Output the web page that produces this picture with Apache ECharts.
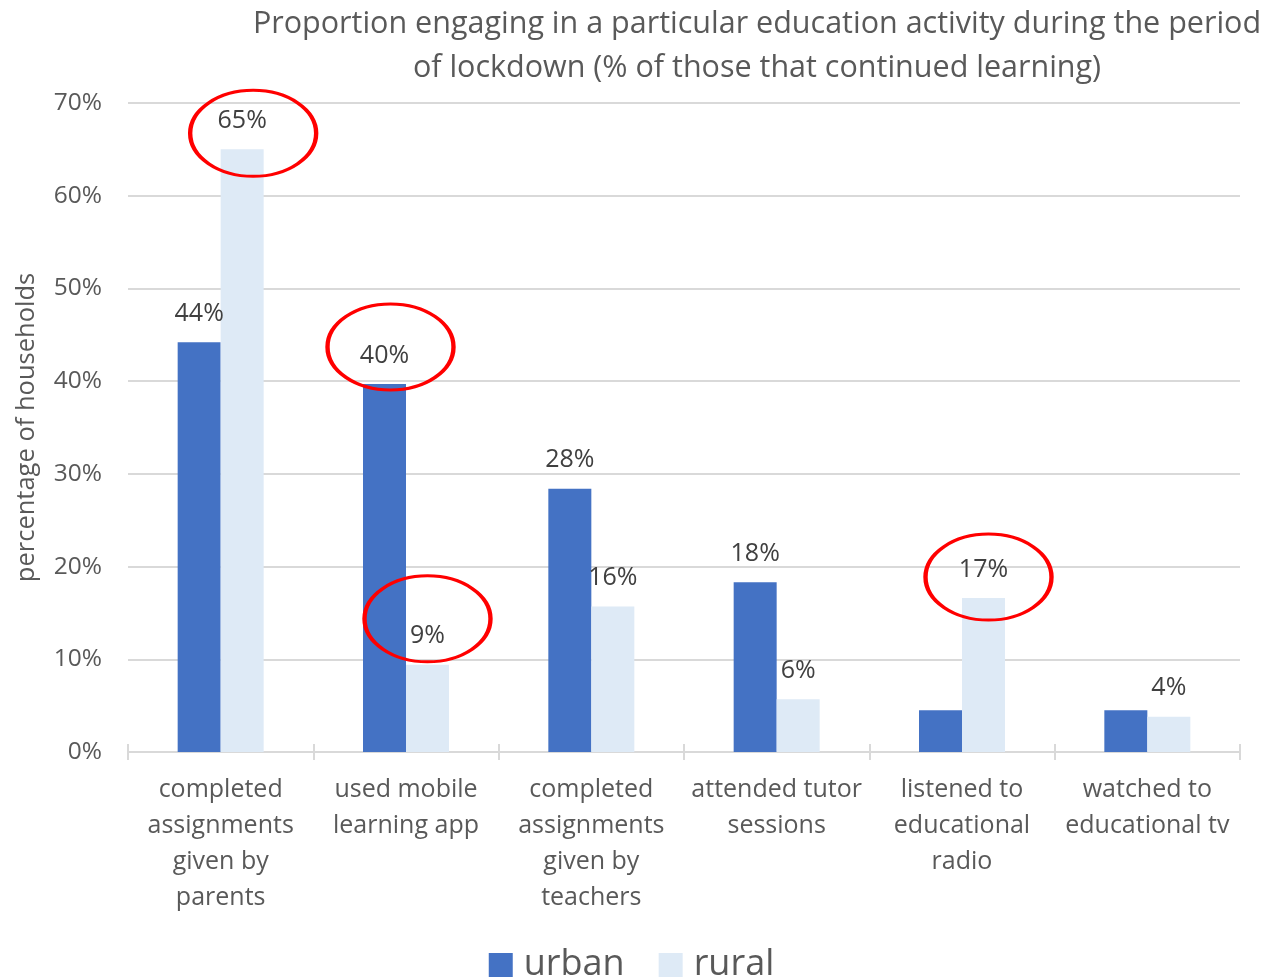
<!DOCTYPE html>
<html>
<head>
<meta charset="utf-8">
<script src="https://cdn.jsdelivr.net/npm/echarts@6/dist/echarts.min.js"></script>
<style>
html,body{margin:0;padding:0;background:#fff;}
#chart{width:1263px;height:980px;}
</style>
</head>
<body>
<div id="chart"></div>
<script>
const categories = [
  'completed\nassignments\ngiven by\nparents',
  'used mobile\nlearning app',
  'completed\nassignments\ngiven by\nteachers',
  'attended tutor\nsessions',
  'listened to\neducational\nradio',
  'watched to\neducational tv'
];
const urban = [44.2, 39.7, 28.4, 18.3, 4.5, 4.5];
const rural = [65.0, 9.4, 15.7, 5.7, 16.6, 3.8];
const urbanLabelShown = [true, true, true, true, false, false];
const ruralLabelShown = [true, true, true, true, true, true];
const yTicks = [0, 10, 20, 30, 40, 50, 60, 70];
// highlighted points: [seriesIndex, categoryIndex]
const highlights = [[1, 0], [0, 1], [1, 1], [1, 4]];
const highlightOffsets = [[11, -16], [6, -37], [0, -46], [5, -21]];

const FONT = '"Open Sans", "Noto Sans", sans-serif';
const chart = echarts.init(document.getElementById('chart'), null, {renderer: 'canvas'});

function mkData(vals, shown) {
  return vals.map((v, i) => ({value: v, label: {show: shown[i]}}));
}

const labelStyle = {
  position: 'top',
  distance: 16,
  fontFamily: FONT,
  fontSize: 25,
  color: '#404040',
  formatter: p => Math.round(p.value) + '%'
};

chart.setOption({
  animation: false,
  backgroundColor: '#ffffff',
  title: {
    text: 'Proportion engaging in a particular education activity during the period\nof lockdown (% of those that continued learning)',
    left: 752,
    top: -3,
    textAlign: 'center',
    textStyle: {fontFamily: FONT, fontSize: 30.5, fontWeight: 'normal', color: '#595959', lineHeight: 44}
  },
  legend: {
    bottom: -8,
    left: 'center',
    itemWidth: 24,
    itemHeight: 24,
    itemGap: 34,
    icon: 'rect',
    textStyle: {fontFamily: FONT, fontSize: 36, color: '#595959', padding: [0, 0, 0, 6]},
    data: ['urban', 'rural']
  },
  grid: {left: 128, right: 23, top: 103, bottom: 228, containLabel: false},
  xAxis: [{
    type: 'category',
    data: categories,
    axisLine: {lineStyle: {color: '#d9d9d9', width: 2}},
    axisTick: {show: true, length: 8, lineStyle: {color: '#d9d9d9', width: 2}},
    axisLabel: {fontFamily: FONT, fontSize: 25, color: '#595959', lineHeight: 36, margin: 20, interval: 0}
  }, {
    type: 'category',
    data: categories,
    position: 'bottom',
    axisLine: {show: false},
    axisTick: {show: true, inside: true, length: 8, lineStyle: {color: '#d9d9d9', width: 2}},
    axisLabel: {show: false}
  }],
  yAxis: {
    type: 'value',
    min: 0,
    max: 70,
    interval: 10,
    name: 'percentage of households',
    nameLocation: 'middle',
    nameGap: 88,
    nameTextStyle: {fontFamily: FONT, fontSize: 25.5, color: '#595959'},
    axisLine: {show: false},
    axisTick: {show: false},
    axisLabel: {fontFamily: FONT, fontSize: 24.5, color: '#595959', margin: 26, formatter: v => v + '%'},
    splitLine: {lineStyle: {color: '#d9d9d9', width: 2}}
  },
  series: [{
    name: 'urban',
    type: 'bar',
    data: mkData(urban, urbanLabelShown),
    barWidth: 43,
    barGap: '0%',
    itemStyle: {color: '#4472C4'},
    label: labelStyle
  }, {
    name: 'rural',
    type: 'bar',
    data: mkData(rural, ruralLabelShown),
    barWidth: 43,
    barGap: '0%',
    itemStyle: {color: '#DEEAF6'},
    label: labelStyle
  }]
});

function drawHighlights() {
  const els = highlights.map((h, k) => {
    const s = h[0], c = h[1];
    const vals = s === 0 ? urban : rural;
    const pt = chart.convertToPixel({seriesIndex: s}, [c, vals[c]]);
    // shift to bar centre (bars are side by side, each 43 wide)
    const bx = pt[0] + (s === 0 ? -21.5 : 21.5);
    const cx = bx + highlightOffsets[k][0];
    const cy = pt[1] + highlightOffsets[k][1];
    return {
      type: 'circle',
      shape: {cx: 0, cy: 0, r: 43},
      x: cx, y: cy,
      scaleX: 63 / 43, scaleY: 1,
      style: {fill: 'none', stroke: '#FF0000', lineWidth: 3, strokeNoScale: true},
      z: 100
    };
  });
  chart.setOption({graphic: els});
}
drawHighlights();
</script>
</body>
</html>
